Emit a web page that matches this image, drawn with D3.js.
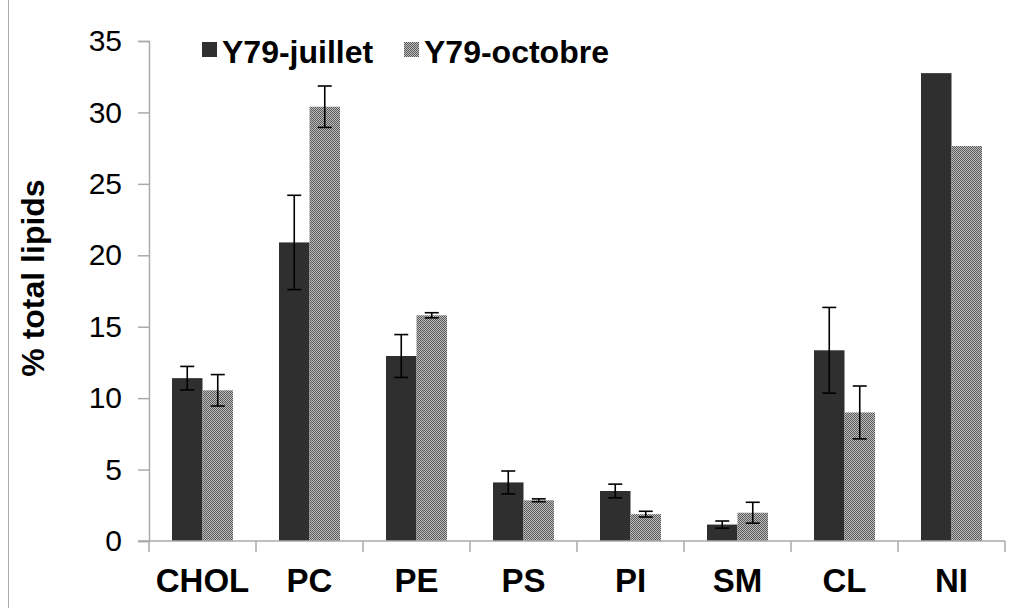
<!DOCTYPE html>
<html>
<head>
<meta charset="utf-8">
<script src="https://cdn.jsdelivr.net/npm/d3@7"></script>
<style>
  html, body { margin: 0; padding: 0; background: #fff; }
  svg { display: block; font-family: "Liberation Sans", Arial, Helvetica, sans-serif; }
</style>
</head>
<body>
<svg id="chart" width="1020" height="608"></svg>
<script>
// Lipid classes on the x axis
const categories = ["CHOL", "PC", "PE", "PS", "PI", "SM", "CL", "NI"];
const seriesNames = ["Y79-juillet", "Y79-octobre"];
// Mean % of total lipids per class
const juillet = [11.4, 20.9, 12.95, 4.1, 3.5, 1.15, 13.35, 32.75];
const octobre = [10.55, 30.4, 15.8, 2.85, 1.88, 1.98, 9.0, 27.65];
// Standard deviations (null = no error bar)
const juilletErr = [0.82, 3.3, 1.5, 0.8, 0.48, 0.25, 3.0, null];
const octobreErr = [1.1, 1.45, 0.18, 0.1, 0.2, 0.73, 1.85, null];
const yTicks = [0, 5, 10, 15, 20, 25, 30, 35];

const svg = d3.select("#chart");
const plot = { left: 149, right: 1005, top: 41, bottom: 541 };

// outer frame line
svg.append("line")
  .attr("x1", 8.5).attr("x2", 8.5).attr("y1", 0).attr("y2", 608)
  .attr("stroke", "#aaa").attr("stroke-width", 1);

// checkered fill used by the second series
const defs = svg.append("defs");
const pat = defs.append("pattern")
  .attr("id", "checker").attr("patternUnits", "userSpaceOnUse")
  .attr("width", 2).attr("height", 2);
pat.append("rect").attr("width", 2).attr("height", 2).attr("fill", "#bdbdbd");
pat.append("rect").attr("x", 0).attr("y", 0).attr("width", 1).attr("height", 1).attr("fill", "#5a5a5a");
pat.append("rect").attr("x", 1).attr("y", 1).attr("width", 1).attr("height", 1).attr("fill", "#5a5a5a");

const x = d3.scaleBand().domain(categories).range([plot.left, plot.right]).paddingInner(0).paddingOuter(0);
const inner = d3.scaleBand().domain(seriesNames).range([0, 61]);
const innerOffset = (x.bandwidth() - 61) / 2;
const y = d3.scaleLinear().domain([0, 35]).range([plot.bottom, plot.top]);

const fills = ["#2f2f2f", "url(#checker)"];
const values = [juillet, octobre];
const errs = [juilletErr, octobreErr];

// bars
seriesNames.forEach((s, si) => {
  svg.append("g").selectAll("rect")
    .data(categories.map((c, i) => ({ c, v: values[si][i] })))
    .join("rect")
    .attr("x", d => x(d.c) + innerOffset + inner(s))
    .attr("y", d => y(d.v))
    .attr("width", inner.bandwidth())
    .attr("height", d => y(0) - y(d.v))
    .attr("fill", fills[si]);
});

// error bars
seriesNames.forEach((s, si) => {
  const data = categories.map((c, i) => ({ c, v: values[si][i], e: errs[si][i] })).filter(d => d.e != null);
  const g = svg.append("g").attr("stroke", "#000").attr("stroke-width", 1.6);
  const cx = d => x(d.c) + innerOffset + inner(s) + inner.bandwidth() / 2;
  g.selectAll("line.v").data(data).join("line")
    .attr("x1", cx).attr("x2", cx)
    .attr("y1", d => y(d.v + d.e)).attr("y2", d => y(d.v - d.e));
  g.selectAll("line.t").data(data).join("line")
    .attr("x1", d => cx(d) - 7).attr("x2", d => cx(d) + 7)
    .attr("y1", d => y(d.v + d.e)).attr("y2", d => y(d.v + d.e));
  g.selectAll("line.b").data(data).join("line")
    .attr("x1", d => cx(d) - 7).attr("x2", d => cx(d) + 7)
    .attr("y1", d => y(d.v - d.e)).attr("y2", d => y(d.v - d.e));
});

// y axis
const yAxis = svg.append("g")
  .attr("transform", `translate(${plot.left},0)`)
  .call(d3.axisLeft(y).tickValues(yTicks).tickSize(11).tickPadding(16));
yAxis.select(".domain").attr("stroke", "#aaa").attr("stroke-width", 1.5);
yAxis.selectAll(".tick line").attr("stroke", "#aaa").attr("stroke-width", 1.5);
yAxis.selectAll(".tick text")
  .attr("font-size", 30).attr("fill", "#000")
  .attr("font-family", "'Liberation Sans', Arial, sans-serif");

// x axis: ticks sit on category boundaries
const xAxisG = svg.append("g").attr("transform", `translate(0,${plot.bottom})`);
xAxisG.append("line")
  .attr("x1", plot.left - 11).attr("x2", plot.right)
  .attr("stroke", "#aaa").attr("stroke-width", 1.5);
const bounds = categories.map(c => x(c)).concat([plot.right]);
xAxisG.selectAll("line.tk").data(bounds).join("line")
  .attr("class", "tk")
  .attr("x1", d => d).attr("x2", d => d)
  .attr("y1", 0).attr("y2", 11)
  .attr("stroke", "#aaa").attr("stroke-width", 1.5);
xAxisG.selectAll("text").data(categories).join("text")
  .attr("x", d => x(d) + x.bandwidth() / 2)
  .attr("y", 51)
  .attr("text-anchor", "middle")
  .attr("font-size", 33).attr("font-weight", "bold")
  .text(d => d);

// y axis title
svg.append("text")
  .attr("transform", "translate(44,278) rotate(-90)")
  .attr("text-anchor", "middle")
  .attr("font-size", 32).attr("font-weight", "bold")
  .text("% total lipids");

// legend
const legend = svg.append("g");
const legendX = [202, 404];
seriesNames.forEach((s, si) => {
  legend.append("rect")
    .attr("x", legendX[si]).attr("y", 42)
    .attr("width", 15).attr("height", 15)
    .attr("fill", fills[si]);
  legend.append("text")
    .attr("x", legendX[si] + 20).attr("y", 63)
    .attr("font-size", 32).attr("font-weight", "bold")
    .text(s);
});
</script>
</body>
</html>
